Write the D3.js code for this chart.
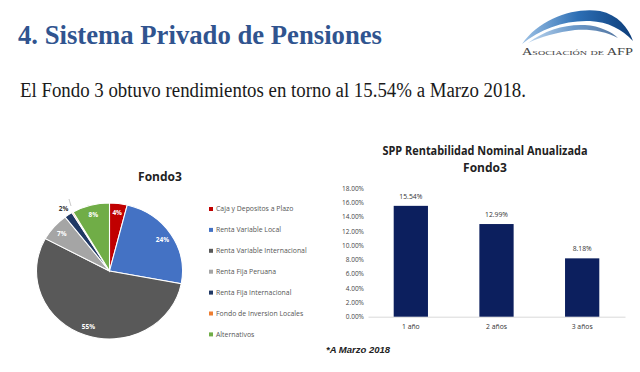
<!DOCTYPE html>
<html><head><meta charset="utf-8">
<script src="https://cdn.jsdelivr.net/npm/d3@7"></script>
<style>body{margin:0;background:#fff}svg{display:block}</style>
</head><body>
<script>
const pieCategories = ["Caja y Depositos a Plazo","Renta Variable Local","Renta Variable Internacional","Renta Fija Peruana","Renta Fija Internacional","Fondo de Inversion Locales","Alternativos"];
const pieValues = [3.9, 24.1, 54.9, 6.7, 1.8, 0.3, 8.3];
const pieLabels = ["4%","24%","55%","7%","2%","","8%"];
const pieColors = ["#C00000","#4472C4","#595959","#A5A5A5","#203864","#ED7D31","#70AD47"];

const barCategories = ["1 año","2 años","3 años"];
const barValues = [15.54, 12.99, 8.18];
const yTicks = [0,2,4,6,8,10,12,14,16,18];

const W=640,H=372;
const svg=d3.select("body").append("svg").attr("width",W).attr("height",H);
svg.append("rect").attr("width",W).attr("height",H).attr("fill","#fff");

// Header
svg.append("text").attr("x",18).attr("y",44).text("4. Sistema Privado de Pensiones")
  .attr("font-family","Liberation Serif, serif").attr("font-weight","bold").attr("font-size",28)
  .attr("fill","#30548F").attr("textLength",364).attr("lengthAdjust","spacingAndGlyphs");
svg.append("text").attr("x",20).attr("y",97).text("El Fondo 3 obtuvo rendimientos en torno al 15.54% a Marzo 2018.")
  .attr("font-family","Liberation Serif, serif").attr("font-size",20)
  .attr("fill","#1a1a1a").attr("textLength",506).attr("lengthAdjust","spacingAndGlyphs");

// Logo
const defs=svg.append("defs");
const g1=defs.append("linearGradient").attr("id","lg").attr("x1","0").attr("x2","1");
g1.append("stop").attr("offset","0").attr("stop-color","#9fc3e6");
g1.append("stop").attr("offset","0.5").attr("stop-color","#2d6fb5");
g1.append("stop").attr("offset","1").attr("stop-color","#0d3d7a");
svg.append("path").attr("d","M522,44 C540,18 575,7 600,11 C618,15 628,27 633,41 C622,29 608,22 590,21 C565,20 540,29 522,44 Z").attr("fill","url(#lg)");
svg.append("path").attr("d","M528,43 C545,30 565,24 585,25 C600,26 612,32 618,38 C605,31 590,29 575,30 C558,32 540,37 528,43 Z").attr("fill","url(#lg)").attr("opacity",0.7);
svg.append("text").attr("x",522).attr("y",55).text("Asociación de AFP")
  .attr("font-family","Liberation Serif, serif").attr("font-size",10).attr("font-variant","small-caps")
  .attr("fill","#444").attr("textLength",111).attr("lengthAdjust","spacingAndGlyphs");

// Pie
const cx=109.5, cy=271, r=68, sx=73/68;
const pie=d3.pie().sort(null).startAngle(0).endAngle(2*Math.PI)(pieValues);
const arc=d3.arc().innerRadius(0).outerRadius(r);
const pg=svg.append("g").attr("transform",`translate(${cx},${cy}) scale(${sx},1)`);
pg.selectAll("path").data(pie).join("path").attr("d",arc)
  .attr("fill",(d,i)=>pieColors[i]).attr("stroke","#fff").attr("stroke-width",1);
const lab=d3.arc().innerRadius(r*0.86).outerRadius(r*0.86);
const labOut=d3.arc().innerRadius(r*1.12).outerRadius(r*1.12);
svg.append("g").selectAll("text").data(pie).join("text")
  .attr("x",(d,i)=>{const c=(i===4?labOut:lab).centroid(d); return cx+c[0]*sx;})
  .attr("y",(d,i)=>{const c=(i===4?labOut:lab).centroid(d); return cy+c[1]+2.5;})
  .attr("text-anchor","middle").text((d,i)=>pieLabels[i])
  .attr("font-family","Open Sans, sans-serif").attr("font-weight","bold").attr("font-size",6.5)
  .attr("fill",(d,i)=>i===4?"#333":"#fff");
// leader line for small slice
svg.append("line").attr("x1",69).attr("y1",199).attr("x2",71).attr("y2",206).attr("stroke","#bbb").attr("stroke-width",0.8);

svg.append("text").attr("x",160).attr("y",181).attr("text-anchor","middle").text("Fondo3")
  .attr("font-family","Open Sans, sans-serif").attr("font-weight","bold").attr("font-size",12).attr("fill","#222");

// Legend
const lg=svg.append("g");
pieCategories.forEach((c,i)=>{
  const y=209+i*20.9;
  lg.append("rect").attr("x",209).attr("y",y-2).attr("width",4).attr("height",4).attr("fill",pieColors[i]);
  lg.append("text").attr("x",216).attr("y",y+2.4).text(c)
    .attr("font-family","Open Sans, sans-serif").attr("font-size",6.9).attr("fill","#555");
});

// Bar chart
const x=d3.scaleBand().domain(barCategories).range([368,625]).paddingInner(0.6).paddingOuter(0.3);
const y=d3.scaleLinear().domain([0,18]).range([316.7,188.3]);
svg.append("text").attr("x",485).attr("y",155).attr("text-anchor","middle").text("SPP Rentabilidad Nominal Anualizada")
  .attr("font-family","Open Sans, sans-serif").attr("font-weight","bold").attr("font-size",12).attr("fill","#222")
  .attr("textLength",205).attr("lengthAdjust","spacingAndGlyphs");
svg.append("text").attr("x",485).attr("y",172).attr("text-anchor","middle").text("Fondo3")
  .attr("font-family","Open Sans, sans-serif").attr("font-weight","bold").attr("font-size",12).attr("fill","#222");

const yAxis=svg.append("g").attr("transform","translate(368,0)")
  .call(d3.axisLeft(y).tickValues(yTicks).tickFormat(d=>d.toFixed(2)+"%").tickSize(0).tickPadding(4));
yAxis.select(".domain").remove();
yAxis.selectAll("text").attr("font-family","Open Sans, sans-serif").attr("font-size",6.5).attr("fill","#444");

const xAxis=svg.append("g").attr("transform","translate(0,316.7)")
  .call(d3.axisBottom(x).tickSize(0).tickPadding(7));
xAxis.select(".domain").attr("stroke","#d9d9d9");
xAxis.selectAll("text").attr("font-family","Open Sans, sans-serif").attr("font-size",6.8).attr("fill","#333");

svg.append("g").selectAll("rect").data(barValues).join("rect")
  .attr("x",(d,i)=>x(barCategories[i])).attr("width",x.bandwidth())
  .attr("y",d=>y(d)).attr("height",d=>y(0)-y(d)).attr("fill","#0c1f5e");
svg.append("g").selectAll("text").data(barValues).join("text")
  .attr("x",(d,i)=>x(barCategories[i])+x.bandwidth()/2).attr("y",d=>y(d)-7)
  .attr("text-anchor","middle").text(d=>d.toFixed(2)+"%")
  .attr("font-family","Open Sans, sans-serif").attr("font-size",6.8).attr("fill","#333");

svg.append("text").attr("x",326).attr("y",353).text("*A Marzo 2018")
  .attr("font-family","Liberation Sans, Arial, sans-serif").attr("font-weight","bold").attr("font-style","italic")
  .attr("font-size",9.5).attr("fill","#222");
</script>
</body></html>
